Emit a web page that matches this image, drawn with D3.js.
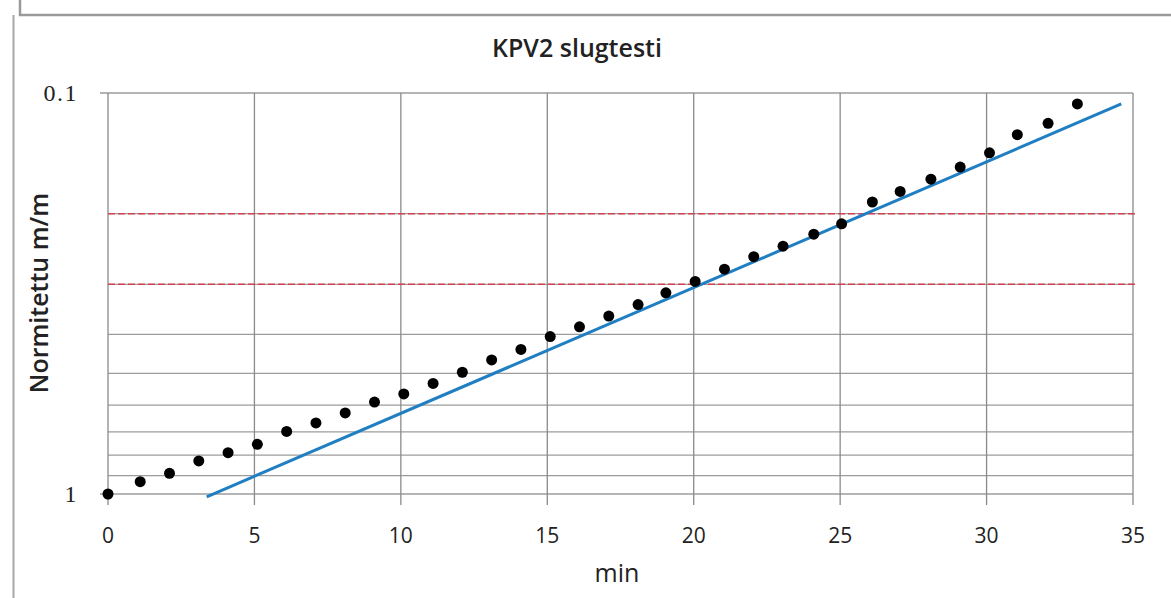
<!DOCTYPE html>
<html>
<head>
<meta charset="utf-8">
<script src="https://cdn.jsdelivr.net/npm/d3@7"></script>
<style>
  body { margin: 0; background: #fff; }
  svg { display: block; }
</style>
</head>
<body>
<script>
// slug test readings (minutes, normalised head m/m)
var minutes = [0, 1.1, 2.1, 3.1, 4.1, 5.1, 6.1, 7.1, 8.1, 9.1, 10.1, 11.1, 12.1, 13.1, 14.1, 15.1, 16.1,
  17.1, 18.1, 19.05, 20.05, 21.05, 22.05, 23.05, 24.1, 25.05, 26.1, 27.05, 28.1, 29.1, 30.1, 31.05, 32.1, 33.1];
var normValues = [1.0, 0.932, 0.888, 0.827, 0.789, 0.752, 0.698, 0.665, 0.628, 0.590, 0.563, 0.530, 0.497,
  0.463, 0.436, 0.405, 0.383, 0.360, 0.337, 0.315, 0.295, 0.275, 0.256, 0.241, 0.225, 0.212, 0.187, 0.176,
  0.164, 0.153, 0.141, 0.127, 0.119, 0.1065];

// fitted line end points
var trendMinutes = [3.37, 34.6];
var trendValues = [1.016, 0.1065];

// red dashed levels
var refLevels = [0.2, 0.3];

var xTicks = [0, 5, 10, 15, 20, 25, 30, 35];
var yMinor = [0.1, 0.2, 0.3, 0.4, 0.5, 0.6, 0.7, 0.8, 0.9, 1];
var yTickLabels = [0.1, 1];

var width = 1171, height = 598;
// note: "top" is taken by window.top, so plot edges get their own names
var plotLeft = 108, plotRight = 1133, plotTop = 93, plotBottom = 494;

var svg = d3.select('body').append('svg')
  .attr('width', width)
  .attr('height', height);

/* page frame */
svg.append('rect')
  .attr('x', 20).attr('y', -10)
  .attr('width', width + 20).attr('height', 25)
  .attr('fill', 'none')
  .attr('stroke', '#9a9a9a')
  .attr('stroke-width', 2.5);
svg.append('line')
  .attr('x1', 13.5).attr('x2', 13.5)
  .attr('y1', 15).attr('y2', height)
  .attr('stroke', '#a8a8a8')
  .attr('stroke-width', 2);

var xScale = d3.scaleLinear().domain([0, 35]).range([plotLeft, plotRight]);
var yScale = d3.scaleLog().domain([1, 0.1]).range([plotBottom, plotTop]);

/* grid */
var grid = svg.append('g').attr('class', 'grid');
grid.selectAll('.hgrid')
  .data(yMinor).enter()
  .append('line')
  .attr('x1', plotLeft).attr('x2', plotRight)
  .attr('y1', d => yScale(d)).attr('y2', d => yScale(d))
  .attr('stroke', '#9c9c9c')
  .attr('stroke-width', 1.3);
grid.selectAll('.vgrid')
  .data(xTicks).enter()
  .append('line')
  .attr('x1', d => xScale(d)).attr('x2', d => xScale(d))
  .attr('y1', plotTop).attr('y2', plotBottom + 11)
  .attr('stroke', '#8a8a8a')
  .attr('stroke-width', 1.3);
grid.selectAll('.ytick')
  .data(yTickLabels).enter()
  .append('line')
  .attr('x1', plotLeft - 8).attr('x2', plotLeft)
  .attr('y1', d => yScale(d)).attr('y2', d => yScale(d))
  .attr('stroke', '#8a8a8a')
  .attr('stroke-width', 1.3);

/* reference levels */
svg.selectAll('.ref')
  .data(refLevels).enter()
  .append('line')
  .attr('x1', plotLeft).attr('x2', plotRight + 5)
  .attr('y1', d => yScale(d)).attr('y2', d => yScale(d))
  .attr('stroke', '#d2424f')
  .attr('stroke-width', 1.5)
  .attr('stroke-dasharray', '7,3');

/* trend line */
var line = d3.line()
  .x(d => xScale(d[0]))
  .y(d => yScale(d[1]));
svg.append('path')
  .attr('d', line(d3.zip(trendMinutes, trendValues)))
  .attr('fill', 'none')
  .attr('stroke', '#1f7fc2')
  .attr('stroke-width', 3);

/* measurements */
svg.selectAll('.dot')
  .data(d3.zip(minutes, normValues)).enter()
  .append('circle')
  .attr('cx', d => xScale(d[0]))
  .attr('cy', d => yScale(d[1]))
  .attr('r', 5.5)
  .attr('fill', '#000');

/* labels */
svg.selectAll('.xlab')
  .data(xTicks).enter()
  .append('text')
  .attr('x', d => xScale(d))
  .attr('y', 543)
  .attr('text-anchor', 'middle')
  .style('font-family', '"Open Sans", sans-serif')
  .style('font-size', '21px')
  .attr('fill', '#222')
  .text(d => d);

svg.selectAll('.ylab')
  .data(yTickLabels).enter()
  .append('text')
  .attr('x', 78)
  .attr('y', d => yScale(d) + 8)
  .attr('text-anchor', 'end')
  .style('font-family', '"Liberation Serif", serif')
  .style('font-size', '24px')
  .style('letter-spacing', '1.5px')
  .attr('fill', '#222')
  .text(d => d);

svg.append('text')
  .attr('x', 577).attr('y', 57)
  .attr('text-anchor', 'middle')
  .style('font-family', '"Open Sans", sans-serif')
  .style('font-size', '25px')
  .style('font-weight', 600)
  .attr('fill', '#222')
  .text('KPV2 slugtesti');

svg.append('text')
  .attr('x', 617).attr('y', 582)
  .attr('text-anchor', 'middle')
  .style('font-family', '"Open Sans", sans-serif')
  .style('font-size', '25px')
  .attr('fill', '#222')
  .text('min');

svg.append('text')
  .attr('transform', 'translate(48,293) rotate(-90)')
  .attr('text-anchor', 'middle')
  .style('font-family', '"Open Sans", sans-serif')
  .style('font-size', '25px')
  .style('font-weight', 600)
  .attr('fill', '#222')
  .text('Normitettu m/m');
</script>
</body>
</html>
